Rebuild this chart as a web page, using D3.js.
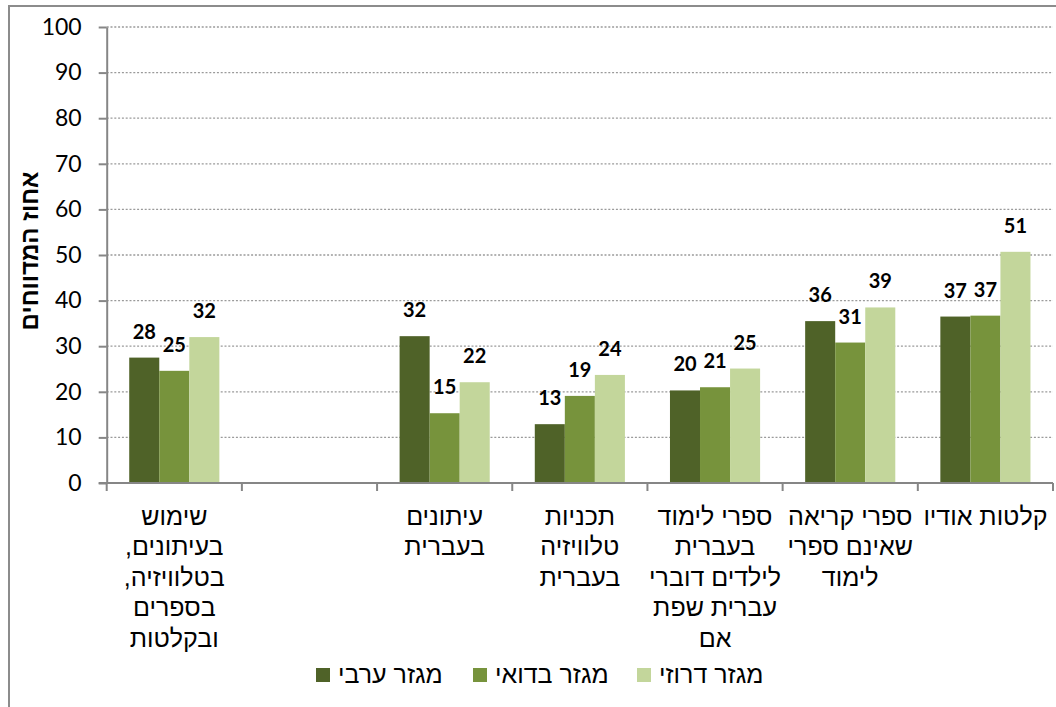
<!DOCTYPE html>
<html lang="he">
<head>
<meta charset="utf-8">
<script src="https://cdn.jsdelivr.net/npm/d3@7"></script>
<style>
  html, body { margin: 0; padding: 0; background: #fff; }
  svg { display: block; }
  .num { font-family: Lato, "Liberation Sans", sans-serif; }
  .heb { font-family: "Liberation Sans", Arial, sans-serif; }
</style>
</head>
<body>
<svg id="chart" width="1056" height="707"></svg>
<script>
// Categories (line breaks mark where each label wraps)
const categories = [
  "שימוש\nבעיתונים,\nבטלוויזיה,\nבספרים\nובקלטות",
  "",
  "עיתונים\nבעברית",
  "תכניות\nטלוויזיה\nבעברית",
  "ספרי לימוד\nבעברית\nלילדים דוברי\nעברית שפת\nאם",
  "ספרי קריאה\nשאינם ספרי\nלימוד",
  "קלטות אודיו"
];

const seriesNames = ["מגזר ערבי", "מגזר בדואי", "מגזר דרוזי"];
const seriesColors = ["#4f6228", "#77933c", "#c3d69b"];

// Percent of respondents, per sector
const arabValues    = [27.5, null, 32.2, 12.9, 20.3, 35.5, 36.5];
const bedouinValues = [24.6, null, 15.3, 19.1, 21.0, 30.8, 36.7];
const druzeValues   = [32.0, null, 22.1, 23.7, 25.1, 38.5, 50.7];

const yTicks = [0, 10, 20, 30, 40, 50, 60, 70, 80, 90, 100];
const yTitle = "אחוז המדווחים";

const series = [arabValues, bedouinValues, druzeValues];

const svg = d3.select("#chart");

// outer frame
svg.append("rect")
  .attr("x", 9).attr("y", 6)
  .attr("width", 1100).attr("height", 800)
  .attr("fill", "none")
  .attr("stroke", "#8c8c8c")
  .attr("stroke-width", 2);

const plotLeft = 106.7, plotRight = 1053, plotTop = 27, plotBottom = 483;

const x = d3.scaleBand()
  .domain(d3.range(categories.length))
  .range([plotLeft, plotRight])
  .paddingInner(0).paddingOuter(0);

const xs = d3.scaleBand()
  .domain(d3.range(series.length))
  .range([0, x.bandwidth()])
  .paddingInner(0).paddingOuter(0.75);

const y = d3.scaleLinear().domain([0, 100]).range([plotBottom, plotTop]);

// dotted gridlines
svg.append("g")
  .selectAll("line")
  .data(yTicks.filter(t => t > 0))
  .join("line")
  .attr("x1", plotLeft).attr("x2", plotRight)
  .attr("y1", d => y(d)).attr("y2", d => y(d))
  .attr("stroke", "#9a9a9a")
  .attr("stroke-width", 1.3)
  .attr("stroke-dasharray", "2,1.8");

// bars
const barData = [];
series.forEach((vals, s) => vals.forEach((v, i) => {
  if (v != null) barData.push({ s, i, v });
}));

svg.append("g")
  .selectAll("rect")
  .data(barData)
  .join("rect")
  .attr("x", d => x(d.i) + xs(d.s))
  .attr("width", xs.bandwidth())
  .attr("y", d => y(d.v))
  .attr("height", d => y(0) - y(d.v))
  .attr("fill", d => seriesColors[d.s]);

// value labels
svg.append("g")
  .selectAll("text")
  .data(barData)
  .join("text")
  .attr("class", "num")
  .attr("x", d => x(d.i) + xs(d.s) + xs.bandwidth() / 2)
  .attr("y", d => y(d.v) - 19)
  .attr("text-anchor", "middle")
  .attr("font-size", 20)
  .attr("font-weight", "bold")
  .attr("fill", "#000")
  .text(d => Math.round(d.v));

// y axis
const yAxis = svg.append("g")
  .attr("transform", `translate(${plotLeft},0)`)
  .call(d3.axisLeft(y).tickValues(yTicks).tickSize(8).tickSizeOuter(0).tickPadding(17));
yAxis.select(".domain").attr("stroke", "#868686").attr("stroke-width", 2);
yAxis.selectAll(".tick line").attr("stroke", "#868686").attr("stroke-width", 2);
yAxis.selectAll(".tick text")
  .attr("class", "num")
  .attr("font-size", 23)
  .attr("fill", "#000");

// x axis: baseline, boundary ticks and wrapped category labels
const xAxis = svg.append("g")
  .attr("transform", `translate(0,${plotBottom})`)
  .call(d3.axisBottom(x).tickSize(0).tickSizeOuter(0).tickFormat(""));
xAxis.select(".domain").remove();

const boundaries = d3.range(categories.length).map(i => x(i)).concat([x.range()[1]]);
xAxis.append("line")
  .attr("x1", plotLeft - 8).attr("x2", plotRight)
  .attr("y1", 0).attr("y2", 0)
  .attr("stroke", "#868686").attr("stroke-width", 2);
xAxis.selectAll(".bound")
  .data(boundaries)
  .join("line")
  .attr("class", "bound")
  .attr("x1", d => d).attr("x2", d => d)
  .attr("y1", 0).attr("y2", 8)
  .attr("stroke", "#868686").attr("stroke-width", 2);

xAxis.selectAll(".tick").each(function (i) {
  const lines = categories[i] ? categories[i].split("\n") : [];
  const t = d3.select(this).select("text")
    .attr("class", "heb")
    .attr("y", 0)
    .attr("dy", null)
    .attr("direction", "rtl")
    .attr("text-anchor", "middle")
    .attr("font-size", 25)
    .attr("fill", "#000");
  t.selectAll("tspan")
    .data(lines)
    .join("tspan")
    .attr("x", 0)
    .attr("y", (d, k) => 42 + k * 30.4)
    .text(d => d);
});

// y axis title
svg.append("text")
  .attr("class", "heb")
  .attr("transform", `translate(38,251) rotate(-90)`)
  .attr("text-anchor", "middle")
  .attr("direction", "rtl")
  .attr("font-size", 24)
  .attr("font-weight", "bold")
  .text(yTitle);

// legend
const legendX = [316, 473, 637];
const legend = svg.append("g");
seriesNames.forEach((name, s) => {
  legend.append("rect")
    .attr("x", legendX[s]).attr("y", 668)
    .attr("width", 14).attr("height", 14)
    .attr("fill", seriesColors[s]);
  legend.append("text")
    .attr("class", "heb")
    .attr("x", legendX[s] + 22)
    .attr("y", 683)
    .attr("font-size", 25)
    .attr("fill", "#000")
    .text(name);
});
</script>
</body>
</html>
